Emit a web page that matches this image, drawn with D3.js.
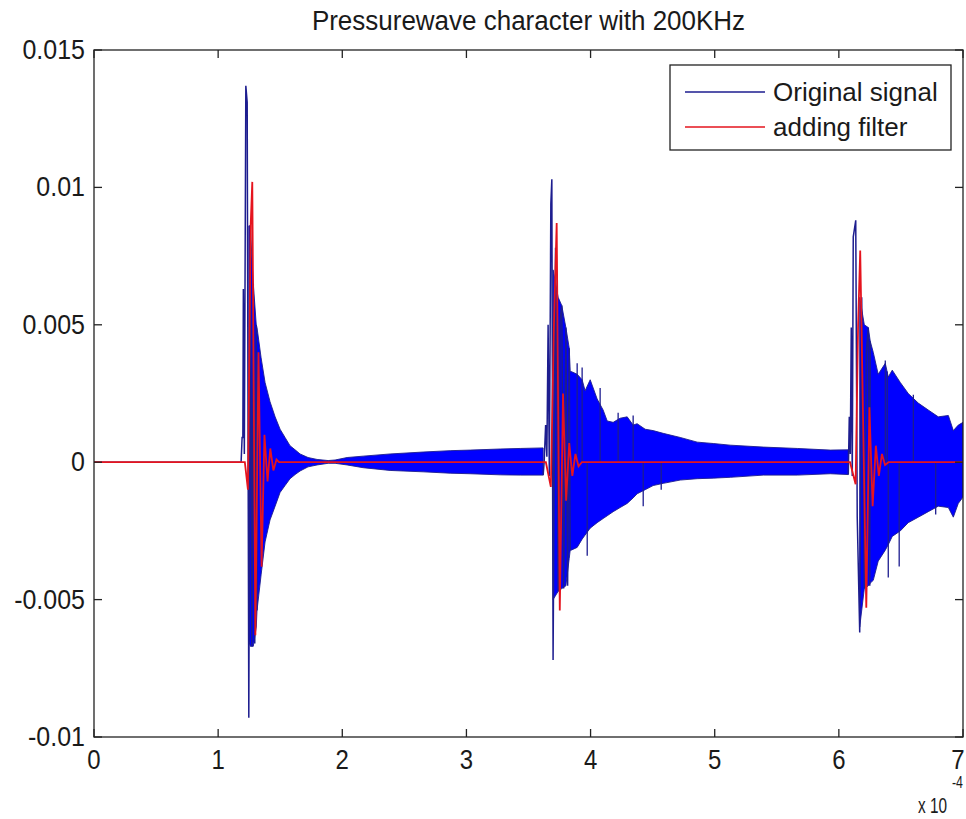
<!DOCTYPE html>
<html><head><meta charset="utf-8">
<script src="https://cdn.jsdelivr.net/npm/d3@7/dist/d3.min.js"></script>
<style>
body{margin:0;background:#fff}
text{font-family:"Liberation Sans",Arial,Helvetica,sans-serif;fill:#1a1a1a}
</style>
</head><body>
<svg id="c" width="966" height="819"></svg>
<script>
// ---------- DATA (time in units of 1e-4 s, amplitude in units of 1e-3) ----------
const title = "Pressurewave character with 200KHz";
const seriesNames = ["Original signal", "adding filter"];
const xTicks = [0, 1, 2, 3, 4, 5, 6, 7];
const xTickLabels = ["0", "1", "2", "3", "4", "5", "6", "7"];
const yTicks = [-0.01, -0.005, 0, 0.005, 0.01, 0.015];
const yTickLabels = ["-0.01", "-0.005", "0", "0.005", "0.01", "0.015"];

// Original signal: envelope of the dense high-frequency ringing (null = break)
const envT  = [1.247,1.259,1.283,1.307,1.313,1.346,1.378,1.418,1.459,1.499,1.539,1.579,1.620,1.660,1.724,1.797,1.886,1.942,2.039,2.168,2.385,2.651,2.869,3.030,3.272,3.433,3.618, null,
               3.698,3.739,3.768,3.801,3.828,3.836,3.844,3.892,3.932,3.956,3.997,4.053,4.101,4.134,4.182,4.238,4.295,4.343,4.375,4.440,4.504,4.585,4.722,4.859,4.988,5.125,5.391,5.665,5.931,6.076, null,
               6.168,6.205,6.237,6.253,6.277,6.317,6.374,6.398,6.430,6.495,6.559,6.640,6.720,6.801,6.882,6.922,6.962,7.0];
const envHi = [8.6,8.6,6.5,5.0,4.9,3.8,2.9,2.2,1.65,1.2,0.9,0.6,0.45,0.3,0.17,0.1,0.06,0.08,0.17,0.22,0.3,0.37,0.42,0.44,0.48,0.5,0.52, null,
               7.0,6.0,5.7,4.9,4.15,3.3,3.3,3.2,3.0,2.6,3.0,2.3,1.9,1.5,1.45,1.6,1.65,1.35,1.4,1.2,1.15,1.05,0.9,0.73,0.68,0.62,0.55,0.5,0.44,0.45, null,
               6.0,5.0,4.9,4.4,4.0,3.2,3.6,3.1,3.35,2.9,2.5,2.15,1.9,1.65,1.7,1.15,1.35,1.45];
const envLo = [-6.5,-6.7,-6.7,-6.0,-5.4,-4.1,-2.9,-2.1,-1.6,-1.1,-0.85,-0.6,-0.45,-0.32,-0.17,-0.1,-0.04,-0.04,-0.1,-0.2,-0.3,-0.35,-0.4,-0.42,-0.46,-0.47,-0.47, null,
               -5.0,-4.7,-4.6,-4.5,-3.5,-3.2,-3.2,-3.1,-2.8,-2.65,-2.4,-2.2,-2.05,-1.95,-1.8,-1.65,-1.5,-1.3,-1.15,-1.0,-0.85,-0.77,-0.65,-0.6,-0.58,-0.55,-0.47,-0.47,-0.42,-0.45, null,
               -6.0,-4.6,-4.5,-4.4,-4.3,-3.6,-3.2,-3.0,-2.7,-2.5,-2.2,-2.0,-1.8,-1.6,-1.65,-2.0,-1.5,-1.27];

// Original signal: individual extremes at the onset of each pulse
const blueT = [0, 1.185,1.193,1.199,1.203,1.211,1.223,1.234,1.247,1.259,1.271,1.283,1.295,1.307,1.313, null,
               3.618,3.626,3.638,3.648,3.658,3.668,3.680,3.688,3.698,3.718,3.739,3.755,3.768,3.783,3.801,3.815,3.828,3.836, null,
               6.076,6.084,6.092,6.100,6.108,6.116,6.136,6.148,6.168,6.184,6.205,6.221,6.237,6.249,6.253];
const blueV = [0, 0,0.9,0.9,6.3,0.3,13.7,13.1,-9.3,8.6,-6.7,6.5,-6.6,5.0,-5.4, null,
               -0.47,0.0,1.35,0.2,5.0,-0.5,9.4,10.3,-7.2,7.8,-4.7,5.2,5.7,-4.6,4.9,-4.5,4.15,-3.2, null,
               -0.45,1.65,0.3,4.9,-0.5,8.2,8.8,-2.0,-6.2,6.0,-4.6,4.0,4.9,-4.5,4.4];

// Original signal: isolated spikes poking out of the ringing envelope
const spikeT = [3.892,3.932,3.973,4.077,4.222,4.343,4.424,4.569,6.374,6.390,6.398,6.486,6.600,6.780];
const spikeV = [3.6,3.45,-3.4,2.7,1.8,1.7,-1.6,-1.0,3.7,3.3,-4.2,-3.8,2.45,-1.9];

// Filtered signal (adding filter)
const redT = [0, 1.215,1.240,1.262,1.275,1.300,1.325,1.350,1.373,1.398,1.420,1.445,1.470,1.490,
              3.640,3.680,3.705,3.727,3.752,3.778,3.803,3.828,3.853,3.878,3.903,3.930,
              6.090,6.135,6.155,6.172,6.221,6.246,6.272,6.298,6.322,6.347,6.372,6.400, 7.0];
const redV = [0, 0,-1.0,8.6,10.2,-6.3,4.0,-3.8,1.0,-0.7,0.5,-0.3,0.1,0,
              0,-0.9,5.0,8.7,-5.4,2.5,-1.4,0.7,-0.5,0.3,-0.15,0,
              0,-0.8,5.0,7.7,-5.3,2.0,-1.6,0.6,-0.5,0.3,-0.1,0, 0];

// ---------- DRAWING ----------
const svg = d3.select("#c");
const L = 94, R = 963, T = 50, B = 737;
const x = d3.scaleLinear().domain([0, 7]).range([L, R]);
const y = d3.scaleLinear().domain([-0.01, 0.015]).range([B, T]);
const k = 1e-3;
const BLUE = "#0000ff", NAVY = "#1d1d8f", RED = "#e5141e", AX = "#222";

svg.append("defs").append("clipPath").attr("id", "clip")
  .append("rect").attr("x", L).attr("y", T).attr("width", R - L).attr("height", B - T);
const plot = svg.append("g").attr("clip-path", "url(#clip)");

// envelope area
const envRows = envT.map((t, i) => ({t, hi: envHi[i], lo: envLo[i]}));
plot.append("path").datum(envRows)
  .attr("d", d3.area().defined(d => d.t !== null)
    .x(d => x(d.t)).y0(d => y(d.lo * k)).y1(d => y(d.hi * k)))
  .attr("fill", BLUE).attr("stroke", NAVY).attr("stroke-width", 0.9);

// onset extremes
const blueRows = blueT.map((t, i) => ({t, v: blueV[i]}));
plot.append("path").datum(blueRows)
  .attr("d", d3.line().defined(d => d.t !== null).x(d => x(d.t)).y(d => y(d.v * k)))
  .attr("fill", "none").attr("stroke", NAVY).attr("stroke-width", 1.5);

// isolated spikes
plot.selectAll("line.sp").data(spikeT.map((t, i) => ({t, v: spikeV[i]}))).enter()
  .append("line").attr("class", "sp")
  .attr("x1", d => x(d.t)).attr("x2", d => x(d.t))
  .attr("y1", y(0)).attr("y2", d => y(d.v * k))
  .attr("stroke", NAVY).attr("stroke-width", 1.3);

// filtered signal
const redRows = redT.map((t, i) => ({t, v: redV[i]}));
plot.append("path").datum(redRows)
  .attr("d", d3.line().x(d => x(d.t)).y(d => y(d.v * k)))
  .attr("fill", "none").attr("stroke", RED).attr("stroke-width", 1.8);

// axes box with inward ticks
const axG = svg.append("g");
axG.append("rect").attr("x", L).attr("y", T).attr("width", R - L).attr("height", B - T)
  .attr("fill", "none").attr("stroke", AX).attr("stroke-width", 1.3);
const tl = 8;
function label(g, px, py, txt, size, anchor, sy) {
  return g.append("text")
    .attr("transform", `translate(${px},${py}) scale(1,${sy})`)
    .attr("text-anchor", anchor).attr("font-size", size).text(txt);
}
xTicks.forEach((t, i) => {
  axG.append("line").attr("x1", x(t)).attr("x2", x(t)).attr("y1", B).attr("y2", B - tl).attr("stroke", AX).attr("stroke-width", 1.3);
  axG.append("line").attr("x1", x(t)).attr("x2", x(t)).attr("y1", T).attr("y2", T + tl).attr("stroke", AX).attr("stroke-width", 1.3);
  const px = Math.min(x(t), 958);
  label(axG, px, B + 32, xTickLabels[i], 24, "middle", 1.12);
});
yTicks.forEach((v, i) => {
  axG.append("line").attr("x1", L).attr("x2", L + tl).attr("y1", y(v)).attr("y2", y(v)).attr("stroke", AX).attr("stroke-width", 1.3);
  axG.append("line").attr("x1", R).attr("x2", R - tl).attr("y1", y(v)).attr("y2", y(v)).attr("stroke", AX).attr("stroke-width", 1.3);
  label(axG, L - 9, y(v) + 9, yTickLabels[i], 25, "end", 1.12);
});

// exponent label
svg.append("text").attr("x", 918).attr("y", 813).attr("font-size", 22)
  .attr("textLength", 29).attr("lengthAdjust", "spacingAndGlyphs").text("x 10");
svg.append("text").attr("x", 952).attr("y", 788).attr("font-size", 17)
  .attr("textLength", 11).attr("lengthAdjust", "spacingAndGlyphs").text("-4");

// title
label(svg, (L + R) / 2, 30, title, 26, "middle", 1.03);

// legend
const lg = svg.append("g");
lg.append("rect").attr("x", 670).attr("y", 65).attr("width", 281).attr("height", 85)
  .attr("fill", "#fff").attr("stroke", AX).attr("stroke-width", 1.3);
[NAVY, RED].forEach((c, i) => {
  const yy = 92 + i * 35;
  lg.append("line").attr("x1", 685).attr("x2", 765).attr("y1", yy).attr("y2", yy)
    .attr("stroke", c).attr("stroke-width", 1.5);
  label(lg, 773, yy + 9, seriesNames[i], 26, "start", 1.0);
});
</script>
</body></html>
